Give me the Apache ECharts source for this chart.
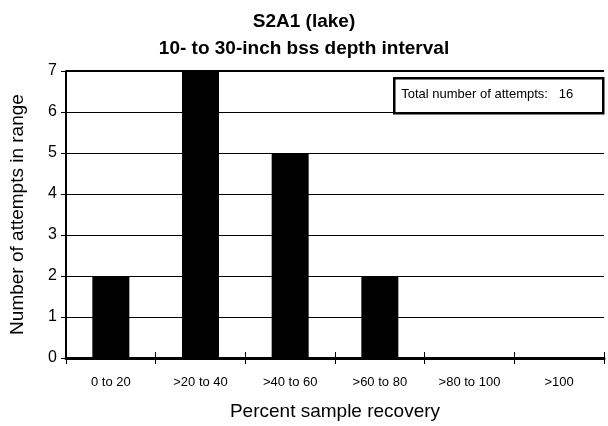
<!DOCTYPE html>
<html><head><meta charset="utf-8">
<script src="https://cdn.jsdelivr.net/npm/echarts@6/dist/echarts.min.js"></script>
<style>html,body{margin:0;padding:0;background:#fff}#c{width:608px;height:426px}</style>
</head><body><div id="c"></div>
<script>
const categories = ['0 to 20', '>20 to 40', '>40 to 60', '>60 to 80', '>80 to 100', '>100'];
const counts = [2, 7, 5, 2, 0, 0];
const yTicks = [0, 1, 2, 3, 4, 5, 6, 7];
const titleLines = ['S2A1 (lake)', '10- to 30-inch bss depth interval'];
const totalLabel = 'Total number of attempts:   16';

const chart = echarts.init(document.getElementById('c'), null, {renderer: 'canvas'});
const F = '"Liberation Sans", Arial, sans-serif';
chart.setOption({
  animation: false,
  title: {
    text: titleLines.join('\n'), left: 'center', top: 3,
    textStyle: {fontFamily: F, fontSize: 19, fontWeight: 'bold', color: '#000', lineHeight: 27}
  },
  grid: {left: 66, right: 4, top: 71, bottom: 65},
  xAxis: [{
    type: 'category', data: categories,
    name: 'Percent sample recovery', nameLocation: 'middle', nameGap: 44,
    nameTextStyle: {fontFamily: F, fontSize: 19, color: '#000'},
    axisLine: {lineStyle: {color: '#000', width: 3}},
    axisTick: {show: true, alignWithLabel: false, length: 6, lineStyle: {color: '#000', width: 1}},
    axisLabel: {fontFamily: F, fontSize: 13, color: '#000', margin: 18},
    splitLine: {show: false}
  }, {
    type: 'category', data: categories, position: 'bottom',
    axisLine: {show: false},
    axisTick: {show: true, inside: true, length: 6, lineStyle: {color: '#000', width: 1}},
    axisLabel: {show: false},
    splitLine: {show: false}
  }],
  yAxis: {
    type: 'value', min: 0, max: 7, interval: 1,
    name: 'Number of attempts in range', nameLocation: 'middle', nameGap: 39,
    nameTextStyle: {fontFamily: F, fontSize: 19, color: '#000'},
    axisLine: {show: true, lineStyle: {color: '#000', width: 2}},
    axisTick: {show: true, length: 5, lineStyle: {color: '#000', width: 1}},
    axisLabel: {fontFamily: F, fontSize: 16, color: '#000', margin: 9,
      formatter: v => yTicks.includes(v) ? String(v) : ''},
    splitLine: {show: true, lineStyle: {color: '#000', width: 1}}
  },
  series: [{
    type: 'bar', data: counts, barWidth: 37,
    itemStyle: {color: '#000', borderWidth: 0}
  }, {
    type: 'line', data: [], markLine: {
      silent: true, symbol: 'none', label: {show: false},
      lineStyle: {color: '#000', width: 2, type: 'solid'},
      data: [{yAxis: 7}]
    }
  }],
  graphic: [{
    type: 'group', left: 393, top: 77,
    children: [{
      type: 'rect', shape: {x: 0, y: 0, width: 209, height: 35},
      style: {fill: '#fff', stroke: '#000', lineWidth: 2.5}
    }, {
      type: 'text', left: 7, top: 10,
      style: {text: totalLabel, font: '13px ' + F, fill: '#000'}
    }]
  }]
});
</script></body></html>
